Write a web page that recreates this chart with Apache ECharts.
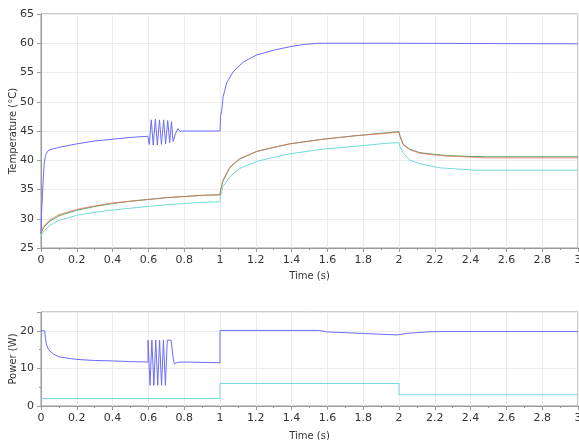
<!DOCTYPE html>
<html>
<head>
<meta charset="utf-8">
<script src="https://cdn.jsdelivr.net/npm/echarts@6/dist/echarts.min.js"></script>
<style>
  html, body { margin: 0; padding: 0; background: #fff; }
  #chart { width: 579px; height: 440px; }
</style>
</head>
<body>
<div id="chart"></div>
<script>
// 温度曲线（时间 s, 温度 °C）
const tempBlue = [
  [0, 27.5], [0.003, 31], [0.008, 34], [0.012, 36.5], [0.018, 39.5], [0.025, 40.8],
  [0.035, 41.5], [0.05, 41.8], [0.1, 42.2], [0.2, 42.8], [0.3, 43.3], [0.4, 43.6],
  [0.5, 43.9], [0.597, 44.1],
  [0.605, 42.7], [0.616, 46.9], [0.627, 42.6], [0.639, 47.0], [0.650, 42.6],
  [0.662, 46.9], [0.673, 42.7], [0.685, 46.9], [0.696, 42.8], [0.708, 46.8],
  [0.719, 43.0], [0.729, 46.6], [0.738, 43.2], [0.752, 44.6], [0.765, 45.4],
  [0.778, 44.9], [0.79, 45.0], [1.0, 45.0],
  [1.003, 47.5], [1.01, 48.6], [1.017, 50.8], [1.037, 53.2], [1.073, 55.1],
  [1.13, 56.8], [1.205, 58.0], [1.297, 58.8], [1.39, 59.4], [1.47, 59.8],
  [1.55, 60.0], [2.0, 60.0], [2.01, 59.9], [3.0, 59.9]
];
const tempRed = [
  [0, 27.6], [0.01, 28.4], [0.02, 28.9], [0.05, 29.8], [0.1, 30.7], [0.2, 31.6],
  [0.3, 32.2], [0.4, 32.7], [0.5, 33.0], [0.6, 33.3], [0.7, 33.6], [0.8, 33.8],
  [0.9, 34.0], [1.0, 34.1], [1.003, 34.9], [1.017, 36.6], [1.056, 38.9],
  [1.11, 40.3], [1.205, 41.5], [1.3, 42.2], [1.39, 42.8], [1.575, 43.6],
  [1.76, 44.2], [1.93, 44.6], [2.0, 44.8], [2.006, 44.0], [2.024, 42.6],
  [2.06, 41.8], [2.117, 41.2], [2.2, 40.9], [2.27, 40.7], [2.4, 40.55],
  [2.49, 40.4], [3.0, 40.4]
];
const tempGreen = [
  [0, 27.5], [0.01, 28.2], [0.02, 28.7], [0.05, 29.6], [0.1, 30.5], [0.2, 31.45],
  [0.3, 32.1], [0.4, 32.6], [0.5, 33.0], [0.6, 33.3], [0.7, 33.6], [0.8, 33.8],
  [0.9, 34.0], [1.0, 34.1], [1.003, 34.8], [1.017, 36.5], [1.056, 38.8],
  [1.11, 40.2], [1.205, 41.5], [1.3, 42.2], [1.39, 42.8], [1.575, 43.6],
  [1.76, 44.2], [1.93, 44.7], [2.0, 44.9], [2.006, 44.1], [2.024, 42.7],
  [2.06, 41.9], [2.117, 41.3], [2.2, 41.0], [2.27, 40.8], [2.4, 40.65],
  [2.49, 40.6], [3.0, 40.6]
];
const tempCyan = [
  [0, 27.0], [0.01, 27.6], [0.02, 28.0], [0.05, 28.9], [0.1, 29.7], [0.2, 30.6],
  [0.3, 31.1], [0.4, 31.5], [0.5, 31.8], [0.6, 32.1], [0.7, 32.4], [0.8, 32.6],
  [0.9, 32.8], [1.0, 32.9], [1.002, 33.8], [1.017, 35.5], [1.056, 37.2],
  [1.11, 38.6], [1.205, 39.8], [1.3, 40.5], [1.39, 41.1], [1.575, 41.9],
  [1.76, 42.4], [1.93, 42.9], [2.0, 43.0], [2.006, 42.3], [2.024, 41.2],
  [2.06, 40.0], [2.117, 39.4], [2.23, 38.7], [2.43, 38.3], [3.0, 38.3]
];

// 功率曲线（时间 s, 功率 W）
const powerBlue = [
  [0, 20], [0.02, 20], [0.025, 18], [0.03, 16.4], [0.04, 15.2], [0.05, 14.6],
  [0.07, 13.8], [0.1, 13.1], [0.15, 12.7], [0.2, 12.4], [0.3, 12.1], [0.4, 12.0],
  [0.5, 11.8], [0.598, 11.7],
  [0.598, 17.5], [0.609, 17.5], [0.609, 5.5], [0.6195, 5.5], [0.6195, 17.5],
  [0.6305, 17.5], [0.6305, 5.5], [0.641, 5.5], [0.641, 17.5], [0.652, 17.5],
  [0.652, 5.5], [0.6625, 5.5], [0.6625, 17.5], [0.6735, 17.5], [0.6735, 5.5],
  [0.684, 5.5], [0.684, 17.5], [0.695, 17.5], [0.695, 5.5], [0.7055, 5.5],
  [0.7055, 17.5], [0.727, 17.5], [0.736, 13.5], [0.745, 11.2], [0.752, 10.8],
  [0.762, 11.6], [0.772, 12.0], [0.8, 11.7], [0.9, 11.6], [1.0, 11.5],
  [1.0, 20.1], [1.55, 20.1], [1.6, 19.7], [1.7, 19.5], [1.8, 19.3], [1.9, 19.1],
  [1.99, 18.9], [2.0, 18.9], [2.04, 19.3], [2.1, 19.5], [2.16, 19.7], [2.23, 19.8],
  [3.0, 19.8]
];
const powerCyan = [
  [0, 2], [1, 2], [1, 6], [2, 6], [2, 3], [3, 3]
];

const BLUE = "#6b6bff";
const RED = "#ec6c5c";
const GREEN = "#5aa85a";
const CYAN = "#72dada";
const AXIS = "#9a9a9a";
const SPLIT = "#ececec";
const TEXT = "#333";
const FONT = "DejaVu Sans";

function xAxisFor(gridIndex) {
  return {
    type: "value", gridIndex: gridIndex, min: 0, max: 3, interval: 0.2,
    name: "Time (s)", nameLocation: "middle", nameMoveOverlap: false,
    nameGap: gridIndex === 0 ? 23 : 25,
    nameTextStyle: { color: TEXT, fontFamily: FONT, fontSize: 10 },
    axisLine: { lineStyle: { color: AXIS } },
    axisTick: { length: 4, lineStyle: { color: AXIS } },
    minorTick: { show: true, splitNumber: 2, length: 2, lineStyle: { color: AXIS } },
    axisLabel: { color: TEXT, fontFamily: FONT, fontSize: 11, margin: 7 },
    splitLine: { show: true, lineStyle: { color: SPLIT } }
  };
}

function yAxisFor(gridIndex, name, min, max, interval, minor) {
  return {
    type: "value", gridIndex: gridIndex, min: min, max: max, interval: interval,
    name: name, nameLocation: "middle", nameGap: 23, nameMoveOverlap: false,
    nameTextStyle: { color: TEXT, fontFamily: FONT, fontSize: 10 },
    axisLine: { show: true, lineStyle: { color: AXIS } },
    axisTick: { show: true, length: 4, lineStyle: { color: AXIS } },
    minorTick: { show: minor, splitNumber: 2, length: 2, lineStyle: { color: AXIS } },
    axisLabel: { color: TEXT, fontFamily: FONT, fontSize: 11, margin: 7, showMaxLabel: max % interval === 0 },
    splitLine: { show: true, lineStyle: { color: SPLIT } }
  };
}

function line(name, data, color, xi, yi, opacity) {
  return {
    name: name, type: "line", data: data, xAxisIndex: xi, yAxisIndex: yi,
    showSymbol: false, symbol: "none", smooth: false,
    lineStyle: { color: color, width: 1, opacity: opacity || 1 }, itemStyle: { color: color }
  };
}

const chart = echarts.init(document.getElementById("chart"), null, { renderer: "canvas" });
chart.setOption({
  animation: false,
  backgroundColor: "#fff",
  grid: [
    { left: 41, right: 1, top: 14, height: 234, show: true, borderColor: AXIS, borderWidth: 1,
      outerBoundsMode: "none", containLabel: false },
    { left: 41, right: 1, top: 312, height: 94, show: true, borderColor: AXIS, borderWidth: 1,
      outerBoundsMode: "none", containLabel: false }
  ],
  xAxis: [xAxisFor(0), xAxisFor(1)],
  yAxis: [
    yAxisFor(0, "Temperature (°C)", 25, 65, 5, false),
    yAxisFor(1, "Power (W)", 0, 25, 10, true)
  ],
  series: [
    line("T1", tempBlue, BLUE, 0, 0),
    line("T3", tempCyan, CYAN, 0, 0),
    line("T2b", tempGreen, GREEN, 0, 0),
    line("T2a", tempRed, RED, 0, 0, 0.75),
    line("P1", powerBlue, BLUE, 1, 1),
    line("P2", powerCyan, CYAN, 1, 1)
  ]
});
</script>
</body>
</html>
